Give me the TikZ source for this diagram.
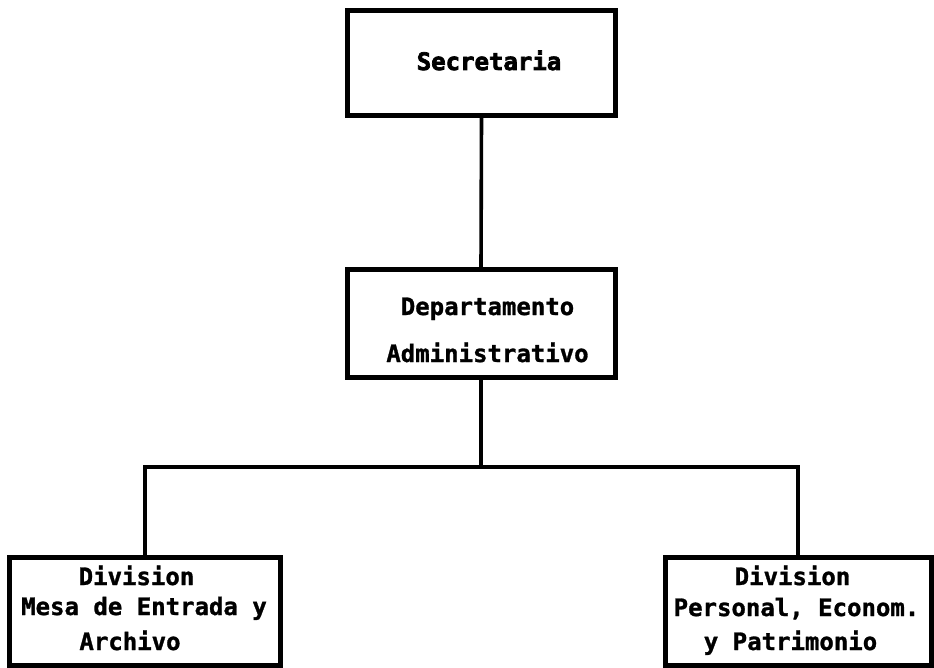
\documentclass[tikz,border=0pt]{standalone}
\usepackage{fontspec}
\newfontfamily\boxmono{DejaVu Sans Mono}[BoldFeatures={FakeBold=1.2}]
\newfontfamily\heavymono{DejaVu Sans Mono}[BoldFeatures={FakeBold=3}]
\begin{document}
\begin{tikzpicture}[x=1pt,y=-1pt,
  orgbox/.style={draw=black,line width=5pt,inner sep=0pt,fill=none},
  link/.style={draw=black,line width=3.6pt},
  txt/.style={anchor=base,inner sep=0pt,font=\boxmono\bfseries\fontsize{24}{28}\selectfont},
  sectxt/.style={anchor=base,inner sep=0pt,font=\heavymono\bfseries\fontsize{24}{28}\selectfont}]
\useasboundingbox (0,0) rectangle (934,668);
% boxes
\node[orgbox,minimum width=268pt,minimum height=105pt] (sec) at (481.5,63) {};
\node[orgbox,minimum width=268pt,minimum height=107pt] (dep) at (481,323.5) {};
\node[orgbox,minimum width=271pt,minimum height=108pt] (div1) at (145,611) {};
\node[orgbox,minimum width=266pt,minimum height=108pt] (div2) at (798,611) {};
% texts
\node[sectxt] (secT) at (489,70) {Secretaria};
\node[txt] (depT1) at (487.5,315) {Departamento};
\node[txt] (depT2) at (487.5,362) {Administrativo};
\node[txt] (d1T1) at (136.5,585) {Division};
\node[txt] (d1T2) at (144,615) {Mesa de Entrada y};
\node[txt] (d1T3) at (130,650) {Archivo};
\node[txt] (d2T1) at (792.5,585) {Division};
\node[txt] (d2T2) at (796.5,616) {Personal, Econom.};
\node[txt] (d2T3) at (790.5,650) {y Patrimonio};
% connectors
\coordinate (bar) at (481,467);
\draw[link] (sec.south) -- (dep.north);
\draw[link] (dep.south) -- (bar);
\draw[link] (div1.north) |- (bar) -| (div2.north);
\end{tikzpicture}
\end{document}
